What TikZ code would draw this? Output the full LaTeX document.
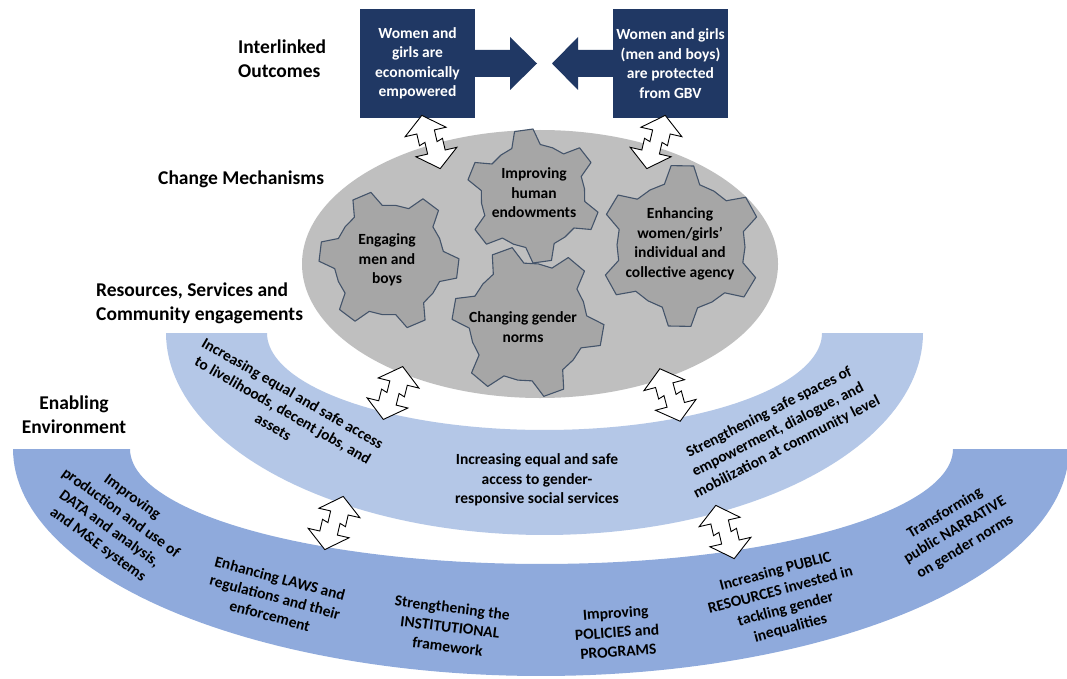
\documentclass[tikz,border=0pt]{standalone}
\usepackage{fontspec}
\setmainfont{Carlito}
\usetikzlibrary{shapes.geometric}
\definecolor{navy}{HTML}{203864}
\definecolor{lband}{HTML}{B4C7E7}
\definecolor{dband}{HTML}{8FAADC}
\definecolor{ellgray}{HTML}{BFBFBF}
\definecolor{geargray}{HTML}{A6A6A6}
\definecolor{gearline}{HTML}{44546A}
\newcommand\drawgear[4]{%
  \begin{scope}[shift={#1}]
  \filldraw[gearst] ({#4-16}:#3) \foreach \k in {0,...,5}{ -- ({\k*60+#4-16}:#3) -- ({\k*60+#4-8}:#2) -- ({\k*60+#4+8}:#2) -- ({\k*60+#4+16}:#3) -- ({\k*60+#4+30}:#3) } -- cycle;
  \end{scope}}
\newcommand\zarrow[3]{%
  \begin{scope}[shift={#1}, rotate=#2, xscale=#3]
  \filldraw[zz] (-3,-28) -- (18,-11) -- (6,-11) -- (6,1) -- (12,-1) -- (12,11) -- (24,11) -- (3,28) -- (-18,11) -- (-6,11) -- (-6,-1) -- (-12,1) -- (-12,-11) -- (-24,-11) -- cycle;
  \end{scope}}
\begin{document}
\begin{tikzpicture}[x=1pt,y=-1pt,
  txt/.style={font=\bfseries\fontsize{15.5}{19.5}\selectfont, align=center, inner sep=0pt, text=black},
  lbl/.style={font=\bfseries\fontsize{19.5}{24}\selectfont, align=left, inner sep=0pt, text=black},
  outbox/.style={txt, fill=navy, text=white, minimum width=115pt, minimum height=109pt},
  gearst/.style={fill=geargray, draw=gearline, line width=1.1pt, line join=round},
  zz/.style={fill=white, draw=black, line width=0.9pt, line join=miter},
  ]
\useasboundingbox (0,0) rectangle (1067,679);
\fill[white] (0,0) rectangle (1067,679);

% bands
\fill[dband] plot[domain=180:360, samples=120] ({541+528*cos(\x)}, {449-227*sin(\x)})
  -- plot[domain=360:180, samples=100] ({541.5+411.5*cos(\x)}, {449-115*sin(\x)}) -- cycle;
\fill[lband] plot[domain=180:360, samples=100] ({544.5+378.5*cos(\x)}, {333-202*sin(\x)})
  -- plot[domain=360:180, samples=90] ({544.5+277.5*cos(\x)}, {333-97*sin(\x)}) -- cycle;

% mechanisms ellipse
\node[ellipse, fill=ellgray, minimum width=476pt, minimum height=268pt, inner sep=0pt] (mech) at (540,264) {};

% gears
\drawgear{(533,196)}{67}{52}{22}
\drawgear{(389,260)}{70}{55}{7}
\drawgear{(681,246)}{81}{64}{31}
\drawgear{(528,322)}{76}{59}{10}

\node[txt] (gI) at (534,193) {Improving\\human\\endowments};
\node[txt] (gE) at (387,260) {Engaging\\men and\\boys};
\node[txt] (gA) at (680,244) {Enhancing\\women/girls’\\individual and\\collective agency};
\node[txt] (gC) at (523,327) {Changing gender\\norms};

% outcome boxes and arrows
\fill[navy] (474,50) -- (510,50) -- (510,37) -- (537,63.5) -- (510,90) -- (510,77) -- (474,77) -- cycle;
\fill[navy] (614,50) -- (578,50) -- (578,37) -- (552,63.5) -- (578,90) -- (578,77) -- (614,77) -- cycle;
\node[outbox] (lbox) at (417.5,63.5) {Women and\\girls are\\economically\\empowered};
\node[outbox] (rbox) at (670.5,63.5) {Women and girls\\(men and boys)\\are protected\\from GBV};

% double arrows
\coordinate (a1) at (431,142);
\coordinate (a2) at (656,142);
\coordinate (a3) at (393,393);
\coordinate (a4) at (670,395);
\coordinate (a5) at (334,523);
\coordinate (a6) at (725,532);
\zarrow{(a1)}{13}{1}
\zarrow{(a2)}{-13}{-1}
\zarrow{(a3)}{-14}{-1}
\zarrow{(a4)}{15}{1}
\zarrow{(a5)}{-13}{-1}
\zarrow{(a6)}{13}{1}

% level labels
\node[lbl, anchor=west] (lo) at (238,58.5) {Interlinked\\Outcomes};
\node[lbl, anchor=west] (lm) at (158,179) {Change Mechanisms};
\node[lbl, anchor=west] (lr) at (96,303) {Resources, Services and\\Community engagements};
\node[lbl, align=center] (le) at (74,415) {Enabling\\Environment};

% light band texts
\node[txt, rotate=-30] (r1) at (283,410) {Increasing equal and safe access\\to livelihoods, decent jobs, and\\assets};
\node[txt] (r2) at (537,480) {Increasing equal and safe\\access to gender-\\responsive social services};
\node[txt, rotate=27] (r3) at (778,430) {Strengthening safe spaces of\\empowerment, dialogue, and\\mobilization at community level};

% dark band texts
\node[txt, rotate=-36] (e1) at (115,521) {Improving\\production and use of\\DATA and analysis,\\and M\&E systems};
\node[txt, rotate=-15] (e2) at (275,597) {Enhancing LAWS and\\regulations and their\\enforcement};
\node[txt, rotate=-7] (e3) at (450,627) {Strengthening the\\INSTITUTIONAL\\framework};
\node[txt, rotate=4] (e4) at (617,632) {Improving\\POLICIES and\\PROGRAMS};
\node[txt, rotate=15] (e5) at (783,600) {Increasing PUBLIC\\RESOURCES invested in\\tackling gender\\inequalities};
\node[txt, rotate=31] (e6) at (955,530) {Transforming\\public NARRATIVE\\on gender norms};
\end{tikzpicture}
\end{document}
